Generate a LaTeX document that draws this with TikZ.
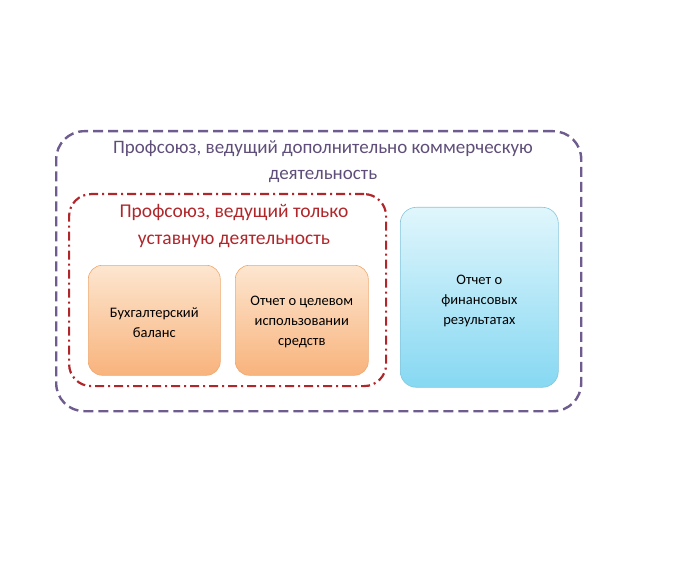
\documentclass[tikz,border=0pt]{standalone}
\usepackage{fontspec}
\setmainfont{Carlito}
\begin{document}
\begin{tikzpicture}[x=1pt,y=-1pt,
  outerbox/.style={line width=2.4pt, dash pattern=on 10pt off 5pt, rounded corners=28pt},
  innerbox/.style={line width=2.2pt, dash pattern=on 9pt off 4pt on 2pt off 4pt, rounded corners=22pt},
  orangebox/.style={draw=orng!80!brown, line width=0.6pt, rounded corners=14pt, top color=orngT, bottom color=orng},
  bluebox/.style={draw=blu!80!gray, line width=0.6pt, rounded corners=16pt, top color=bluT, bottom color=blu},
  lbl/.style={font=\fontsize{14.5}{20}\selectfont, text=black, align=center}]
\definecolor{pur}{HTML}{6E5C8E}
\definecolor{red1}{HTML}{B0272B}
\definecolor{orng}{HTML}{F8B37C}
\definecolor{orngT}{HTML}{FDE6D0}
\definecolor{blu}{HTML}{86D8F2}
\definecolor{bluT}{HTML}{E0F6FC}
\useasboundingbox (0,0) rectangle (696,564);
\node[outerbox, draw=pur, minimum width=525pt, minimum height=280pt, anchor=north west] (outer) at (55,130) {};
\node[innerbox, draw=red1, minimum width=317pt, minimum height=192pt, anchor=north west] (inner) at (68,193) {};
\node[orangebox, minimum width=132pt, minimum height=110pt, anchor=north west] (bal) at (88,265) {};
\node[orangebox, minimum width=133pt, minimum height=110pt, anchor=north west] (rep) at (235,265) {};
\node[bluebox, minimum width=158pt, minimum height=180pt, anchor=north west] (fin) at (400,207) {};
\node[lbl] (balt) at (bal.center) [yshift=-2pt] {Бухгалтерский\\баланс};
\node[lbl] (rept) at (rep.center) [yshift=-2pt] {Отчет о целевом\\использовании\\средств};
\node[lbl] (fint) at (fin.center) [yshift=-4pt] {Отчет о\\финансовых\\результатах};
\node[font=\fontsize{19}{26}\selectfont, text=pur!85!black, align=center] (otitle) at (323,162) {Профсоюз, ведущий дополнительно коммерческую\\деятельность};
\node[font=\fontsize{19.5}{27}\selectfont, text=red1, align=center] (ititle) at (234,226) {Профсоюз, ведущий только\\уставную деятельность};
\end{tikzpicture}
\end{document}
